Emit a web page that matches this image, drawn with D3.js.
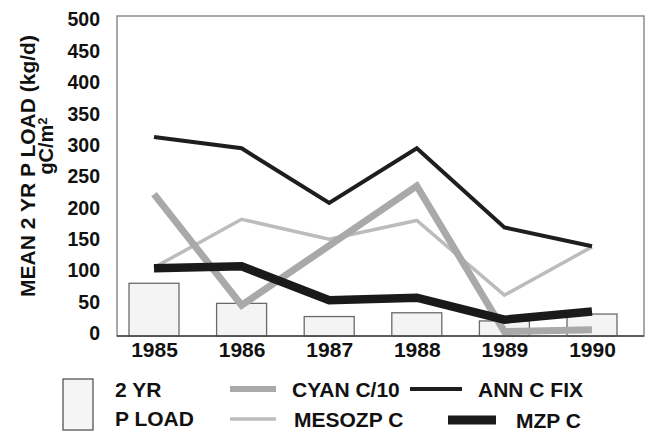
<!DOCTYPE html>
<html><head><meta charset="utf-8">
<script src="https://cdn.jsdelivr.net/npm/d3@7"></script>
<style>
html,body{margin:0;padding:0;background:#fff;}
text{font-family:"Liberation Sans",Arial,Helvetica,sans-serif;font-weight:bold;fill:#111;}
</style></head>
<body><svg id="c" width="647" height="432"></svg>
<script>
const years = ["1985","1986","1987","1988","1989","1990"];
const pLoad   = [80, 48, 27, 33, 20, 31];
const cyanC10 = [222, 45, 140, 235, 3, 6];
const annCFix = [313, 295, 208, 295, 169, 139];
const mesozpC = [105, 182, 150, 180, 61, 138];
const mzpC    = [104, 107, 53, 57, 22, 35];
const yTicks  = [0,50,100,150,200,250,300,350,400,450,500];

const svg = d3.select("#c");
const L = 117, T = 16, R = 644, B = 336;
const x = d3.scalePoint().domain(years).range([154, 592]);
const y = d3.scaleLinear().domain([0, 500]).range([333.5, 19.6]);

// frame
svg.append("rect").attr("x", L).attr("y", T).attr("width", R - L).attr("height", B - T)
  .attr("fill", "none").attr("stroke", "#8c8c8c").attr("stroke-width", 1.5);

// bars
svg.append("g").selectAll("rect").data(years).join("rect")
  .attr("x", d => x(d) - 25).attr("width", 50)
  .attr("y", (d, i) => y(pLoad[i])).attr("height", (d, i) => B - y(pLoad[i]))
  .attr("fill", "#f4f4f4").attr("stroke", "#6a6a6a").attr("stroke-width", 1.3);

const line = vals => d3.line().x((d, i) => x(years[i])).y(d => y(d))(vals);
const series = [
  {v: mesozpC, c: "#bcbcbc", w: 3.5},
  {v: cyanC10, c: "#a9a9a9", w: 7},
  {v: annCFix, c: "#1e1e1e", w: 4},
  {v: mzpC,    c: "#1a1a1a", w: 8.5}
];
svg.append("g").selectAll("path").data(series).join("path")
  .attr("d", s => line(s.v)).attr("fill", "none")
  .attr("stroke", s => s.c).attr("stroke-width", s => s.w)
  .attr("stroke-linejoin", "miter").attr("stroke-miterlimit", 3);

// axes
const ya = svg.append("g").attr("transform", `translate(${L},0)`)
  .call(d3.axisLeft(y).tickValues(yTicks).tickSize(0).tickPadding(17));
ya.select(".domain").remove();
ya.selectAll("text").style("font-size", "19.5px").style("font-family", "Liberation Sans, Arial, sans-serif").style("font-weight", "bold").attr("fill", "#111");

const xa = svg.append("g").attr("transform", `translate(0,${B})`)
  .call(d3.axisBottom(x).tickSize(0).tickPadding(6));
xa.select(".domain").attr("d", `M${L},0H${R}`).attr("stroke", "#444").attr("stroke-width", 1.6);
xa.selectAll("text").style("font-size", "21px").style("font-family", "Liberation Sans, Arial, sans-serif").style("font-weight", "bold").attr("fill", "#111");

// y titles
svg.append("text").attr("transform", "translate(35,166) rotate(-90)")
  .attr("text-anchor", "middle").style("font-size", "21px").text("MEAN 2 YR P LOAD (kg/d)");
const t2 = svg.append("text").attr("transform", "translate(53,146) rotate(-90)")
  .attr("text-anchor", "middle").style("font-size", "20px");
t2.append("tspan").text("gC/m");
t2.append("tspan").attr("dy", "-0.5em").style("font-size", "13px").text("2");

// legend
const lg = svg.append("g");
lg.append("rect").attr("x", 63).attr("y", 379).attr("width", 30).attr("height", 51)
  .attr("fill", "#f5f5f5").attr("stroke", "#555").attr("stroke-width", 1.3);
lg.append("text").attr("x", 115).attr("y", 397).style("font-size", "21px").text("2 YR");
lg.append("text").attr("x", 115).attr("y", 426).style("font-size", "21px").text("P LOAD");

const items = [
  {x1: 230, x2: 276, cy: 389, c: "#a9a9a9", w: 6, label: "CYAN C/10", tx: 292},
  {x1: 410, x2: 462, cy: 389, c: "#1e1e1e", w: 4, label: "ANN C FIX", tx: 478},
  {x1: 230, x2: 276, cy: 419, c: "#bcbcbc", w: 3.5, label: "MESOZP C", tx: 294},
  {x1: 448, x2: 496, cy: 420, c: "#1a1a1a", w: 9, label: "MZP C", tx: 516}
];
items.forEach(it => {
  lg.append("line").attr("x1", it.x1).attr("x2", it.x2).attr("y1", it.cy).attr("y2", it.cy)
    .attr("stroke", it.c).attr("stroke-width", it.w);
  lg.append("text").attr("x", it.tx).attr("y", it.cy + 7.5).style("font-size", "21px").text(it.label);
});
</script></body></html>
